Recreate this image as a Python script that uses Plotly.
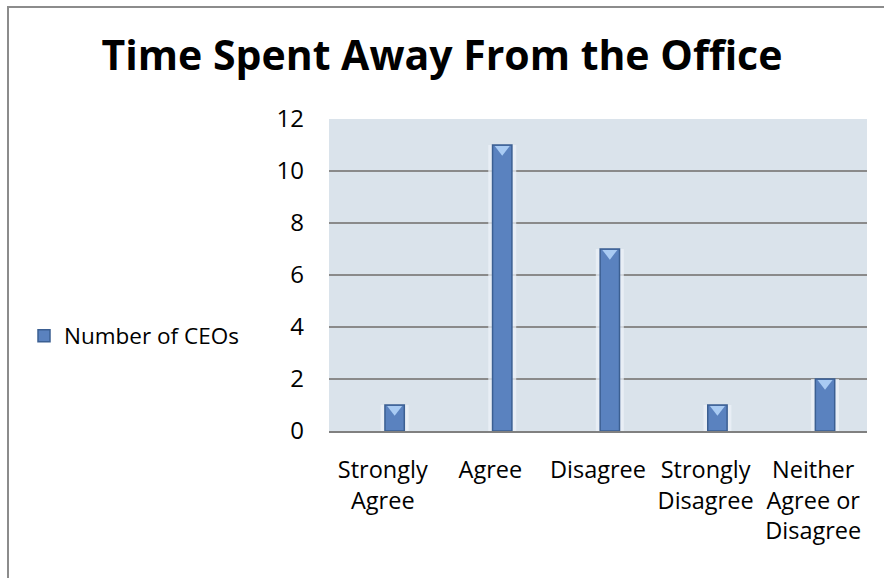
import plotly.graph_objects as go

# Survey responses
categories = ["Strongly<br>Agree", "Agree", "Disagree", "Strongly<br>Disagree",
              "Neither<br>Agree or<br>Disagree"]
ceo_counts = [1, 11, 7, 1, 2]
y_ticks = [0, 2, 4, 6, 8, 10, 12]

W, H = 884, 578
L, R, T, B = 329, 17, 119, 147
plot_w = W - L - R
plot_h = H - T - B

FONT = "Open Sans, Liberation Sans, sans-serif"

# category slots on a numeric axis; columns sit slightly right of the slot centre
slots = list(range(len(categories)))
BAR_W = 0.18
SHIFT = 0.11
bar_x = [s + SHIFT for s in slots]

fig = go.Figure()

# soft glow behind each column
fig.add_trace(go.Bar(
    x=bar_x,
    y=ceo_counts,
    width=BAR_W + 0.08,
    marker=dict(color="rgba(236,242,248,0.75)", line=dict(width=0)),
    showlegend=False,
    hoverinfo="skip",
))

fig.add_trace(go.Bar(
    x=bar_x,
    y=ceo_counts,
    name="Number of CEOs",
    width=BAR_W,
    marker=dict(color="#5a82bf", line=dict(color="#3b5f92", width=1.5)),
))

# lighter bevel cap at the top of each column
fig.add_trace(go.Scatter(
    x=bar_x,
    y=[v - 0.16 for v in ceo_counts],
    mode="markers",
    marker=dict(symbol="triangle-down", size=13, color="#a9cbf3",
                line=dict(width=0)),
    showlegend=False,
    hoverinfo="skip",
))

# outer chart frame (left/top edges visible)
fig.add_shape(type="rect", xref="paper", yref="paper",
              x0=(8 - L) / plot_w, x1=(W + 5 - L) / plot_w,
              y0=-(H + 5 - (H - B)) / plot_h, y1=(H - B - 7) / plot_h,
              line=dict(color="#8c8c8c", width=2), layer="below")

fig.update_layout(
    width=W, height=H,
    margin=dict(l=L, r=R, t=T, b=B),
    paper_bgcolor="white",
    plot_bgcolor="#dae3eb",
    barmode="overlay",
    title=dict(text="<b>Time Spent Away From the Office</b>",
               x=0.5, xref="container", xanchor="center",
               y=1 - 56 / H, yref="container", yanchor="middle",
               font=dict(family=FONT, size=41, color="black")),
    font=dict(family=FONT, size=23, color="black"),
    showlegend=True,
    legend=dict(x=(24 - L) / plot_w, xanchor="left",
                y=(H - B - 336) / plot_h, yanchor="middle",
                font=dict(family=FONT, size=22.5, color="black"),
                bgcolor="rgba(0,0,0,0)", itemwidth=30),
    xaxis=dict(range=[-0.5, len(categories) - 0.5],
               tickvals=slots, ticktext=categories,
               showgrid=False, showline=True, linecolor="#808080",
               linewidth=2, ticks="", zeroline=False, ticklabelstandoff=17,
               tickfont=dict(family=FONT, size=23.5)),
    yaxis=dict(range=[0, 12], tickvals=y_ticks, showgrid=True,
               gridcolor="#8a8a8a", gridwidth=1.5, zeroline=False,
               showline=False, ticks="", ticklabelstandoff=24,
               tickfont=dict(family=FONT, size=24)),
)

fig.write_html("out.html")
